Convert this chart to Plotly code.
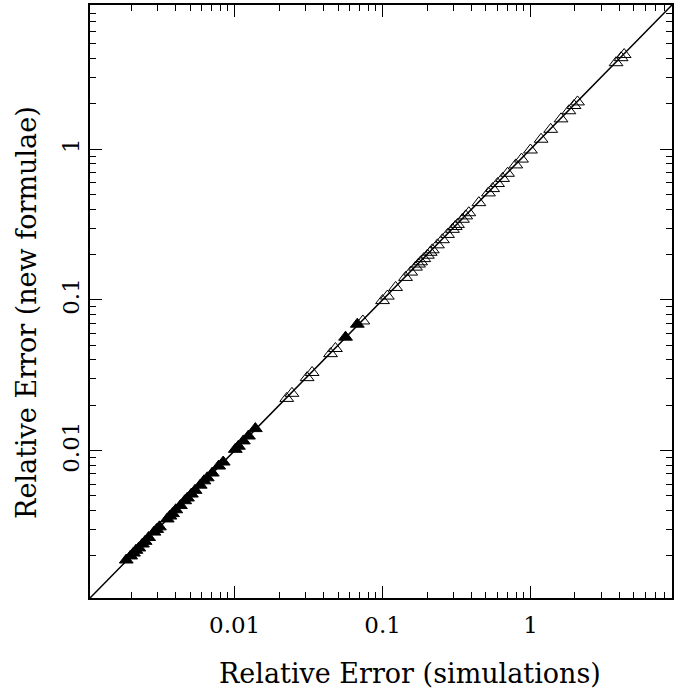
import plotly.graph_objects as go

# Filled triangles (lower errors)
filled_x = [0.00185, 0.00198, 0.00207, 0.00215, 0.00225, 0.00238, 0.00248, 0.00262, 0.00285, 0.00297,
            0.0031, 0.0035, 0.00365, 0.0038, 0.0040, 0.0043, 0.0046, 0.0048, 0.0051, 0.0054,
            0.00585, 0.0062, 0.00653, 0.00706, 0.0078, 0.00837, 0.0101, 0.0106, 0.01145, 0.0124,
            0.0138, 0.0562, 0.0675]
filled_y = [0.00188, 0.00200, 0.00209, 0.00218, 0.00226, 0.00240, 0.00250, 0.00265, 0.00288, 0.00300,
            0.00312, 0.00352, 0.00368, 0.00382, 0.00405, 0.00432, 0.00465, 0.00485, 0.00515, 0.00545,
            0.0059, 0.0063, 0.0066, 0.0071, 0.0079, 0.0084, 0.0102, 0.0107, 0.0116, 0.0125,
            0.0140, 0.0566, 0.0690]

# Open triangles
open_x = [0.0225, 0.0244, 0.0309, 0.0334, 0.0445, 0.048, 0.0736, 0.1, 0.1077, 0.1225,
          0.143, 0.155, 0.167, 0.175, 0.181, 0.19, 0.201, 0.21, 0.217, 0.235,
          0.254, 0.275, 0.297, 0.31, 0.321, 0.347, 0.365, 0.383, 0.448, 0.52,
          0.555, 0.599, 0.648, 0.70, 0.796, 0.87, 1.0, 1.18, 1.37, 1.61,
          1.82, 1.97, 2.08, 3.79, 4.10, 4.30]
open_y = [0.0222, 0.0240, 0.0305, 0.0330, 0.0440, 0.0476, 0.0725, 0.0990, 0.1060, 0.1210,
          0.1410, 0.1530, 0.1650, 0.1730, 0.1790, 0.1880, 0.1980, 0.2070, 0.2150, 0.2320,
          0.2510, 0.2720, 0.2940, 0.3070, 0.3170, 0.3430, 0.3610, 0.3790, 0.4420, 0.5130,
          0.5480, 0.5920, 0.6400, 0.6920, 0.7870, 0.8600, 0.9880, 1.1650, 1.3550, 1.5900,
          1.8000, 1.9500, 2.0600, 3.7500, 4.0500, 4.2500]

# One-to-one reference line
diag = [1e-4, 1e2]

tick_vals = [0.01, 0.1, 1]
tick_text = ["0.01", "0.1", "1"]
minor_vals = [m * 10.0 ** e for e in range(-4, 2) for m in range(2, 10)]

x_title = "Relative Error (simulations)"
y_title = "Relative Error (new formulae)"

FONT = "DejaVu Serif"

fig = go.Figure()
fig.add_trace(go.Scatter(x=diag, y=diag, mode="lines",
                         line=dict(color="black", width=1.5), showlegend=False))
fig.add_trace(go.Scatter(x=filled_x, y=filled_y, mode="markers",
                         marker=dict(symbol="triangle-up", size=12, color="black",
                                     line=dict(color="black", width=1)),
                         showlegend=False))
fig.add_trace(go.Scatter(x=open_x, y=open_y, mode="markers",
                         marker=dict(symbol="triangle-up-open", size=12, color="black",
                                     line=dict(color="black", width=1)),
                         showlegend=False))

axis_common = dict(
    type="log",
    range=[-2.978, 0.957],
    automargin=False,
    showgrid=False, zeroline=False,
    showline=True, linecolor="black", linewidth=1.5, mirror="allticks",
    ticks="inside", ticklen=12, tickwidth=1.2, tickcolor="black",
    tickvals=tick_vals, ticktext=tick_text,
    tickfont=dict(family=FONT, size=23, color="black"),
    minor=dict(tickvals=minor_vals, ticks="inside", ticklen=6, tickwidth=1.2,
               tickcolor="black", showgrid=False),
)

fig.update_xaxes(**axis_common, ticklabelstandoff=6)
fig.update_yaxes(**axis_common, tickangle=-90)

fig.add_annotation(text=x_title, xref="paper", yref="paper", x=0.55, y=-0.127,
                   xanchor="center", yanchor="middle", showarrow=False,
                   font=dict(family=FONT, size=27, color="black"))
fig.add_annotation(text=y_title, xref="paper", yref="paper", x=-0.108, y=0.481,
                   xanchor="center", yanchor="middle", showarrow=False, textangle=-90,
                   font=dict(family=FONT, size=27, color="black"))

fig.update_layout(
    width=692, height=694,
    margin=dict(l=90, r=20, t=5, b=96),
    paper_bgcolor="white", plot_bgcolor="white",
    showlegend=False,
)

fig.write_html("out.html", config={"displayModeBar": False},
               post_script="document.body.style.margin='0';")
